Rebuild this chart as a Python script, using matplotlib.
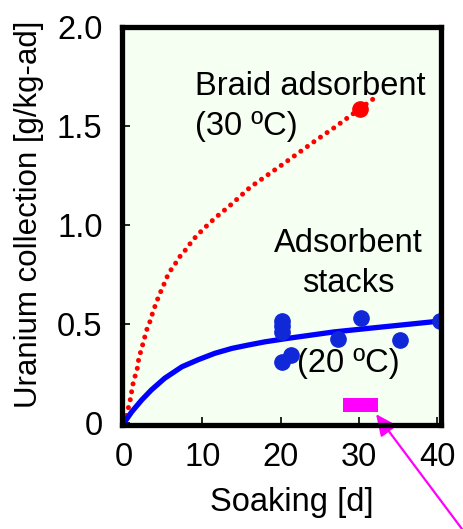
import matplotlib
matplotlib.use("Agg")
import matplotlib.pyplot as plt
from matplotlib.patches import Rectangle

plt.rcParams['font.family'] = ['Liberation Sans', 'DejaVu Sans']

# ---- data ----
braid_x = [0, 0.35, 0.64, 0.9, 1.06, 1.4, 1.7, 1.9, 2.26, 2.56, 2.9, 3.3, 3.67,
           4.1, 4.5, 5.0, 5.45, 6.0, 6.65, 7.3, 8.0, 8.7, 9.4, 10.1, 10.9, 11.6,
           12.5, 13.3, 14.1, 16.1, 18.25, 20.4, 22.5, 24.6, 26.8, 30.1, 32.3]
braid_y = [0, 0.04, 0.09, 0.133, 0.183, 0.234, 0.276, 0.327, 0.377, 0.42, 0.47,
           0.51, 0.557, 0.605, 0.646, 0.69, 0.734, 0.773, 0.81, 0.85, 0.88, 0.92,
           0.95, 0.978, 1.008, 1.034, 1.064, 1.09, 1.118, 1.19, 1.25, 1.31, 1.37,
           1.43, 1.49, 1.586, 1.65]
braid_pt_x = [30.1]
braid_pt_y = [1.586]

stack_x = [0, 1.0, 2.26, 3.5, 5.2, 7.4, 9.5, 11.6, 13.8, 15.9, 18.0, 21.0,
           26.8, 33.2, 40.4]
stack_y = [0.0, 0.057, 0.116, 0.167, 0.226, 0.284, 0.32, 0.352, 0.377, 0.394,
           0.41, 0.428, 0.46, 0.486, 0.515]
stack_pt_x = [20.2, 20.2, 20.2, 20.2, 21.3, 27.3, 30.3, 35.3, 40.4]
stack_pt_y = [0.515, 0.49, 0.46, 0.31, 0.343, 0.424, 0.532, 0.42, 0.515]

x_ticks = [0, 10, 20, 30, 40]
x_ticklabels = ['0', '10', '20', '30', '40']
y_ticks = [0, 0.5, 1.0, 1.5, 2.0]
y_ticklabels = ['0', '0.5', '1.0', '1.5', '2.0']

marker_box = (28.0, 0.056, 4.4, 0.07)  # x, y, width, height

FS = 23.5

fig = plt.figure(figsize=(4.64, 5.29), dpi=100)
ax = fig.add_axes([122/464, 104/529, 319/464, 398/529])
ax.set_facecolor('#f5fff2')

ax.plot(braid_x, braid_y, color='#ff0000', lw=3.6,
        linestyle=(0, (0.01, 1.6)), dash_capstyle='round', zorder=3)
ax.plot(braid_pt_x, braid_pt_y, 'o', color='#ff0000', ms=11, zorder=4)

ax.plot(stack_x, stack_y, color='#0000ff', lw=3.8, solid_capstyle='round',
        solid_joinstyle='round', zorder=3)
ax.plot(stack_pt_x, stack_pt_y, 'o', color='#1028d8', ms=11, zorder=4)

ax.add_patch(Rectangle(marker_box[:2], marker_box[2], marker_box[3],
                       facecolor='#ff00ff', edgecolor='none', zorder=5))

ax.annotate('', xy=(32.2, 0.045), xycoords='data',
            xytext=(462/464, 0.0), textcoords='figure fraction',
            arrowprops=dict(arrowstyle='-|>,head_length=0.65,head_width=0.3',
                            color='#ff00ff', lw=1.6, mutation_scale=20,
                            shrinkA=0, shrinkB=0),
            annotation_clip=False, zorder=6)

ax.text(9.1, 1.657, 'Braid adsorbent', fontsize=FS, va='baseline', ha='left')
ax.text(9.1, 1.455, '(30 ºC)', fontsize=FS, va='baseline', ha='left')
ax.text(28.7, 0.865, 'Adsorbent', fontsize=FS, va='baseline', ha='center')
ax.text(28.7, 0.663, 'stacks', fontsize=FS, va='baseline', ha='center')
ax.text(22.1, 0.26, '(20 ºC)', fontsize=FS, va='baseline', ha='left')

ax.set_xlim(-0.25, 40.5)
ax.set_ylim(-0.01, 2.0)
ax.set_xticks(x_ticks)
ax.set_xticklabels(x_ticklabels)
ax.set_yticks(y_ticks)
ax.set_yticklabels(y_ticklabels)
ax.tick_params(axis='both', direction='in', length=6, width=1.2, labelsize=FS)
ax.tick_params(axis='x', pad=12)
ax.tick_params(axis='y', pad=14)

for sp in ax.spines.values():
    sp.set_linewidth(3.8)
    sp.set_zorder(7)

ax.set_xlabel('Soaking [d]', fontsize=FS)
ax.set_ylabel('Uranium collection [g/kg-ad]', fontsize=FS - 1)
ax.xaxis.set_label_coords(0.533, -0.155)
ax.yaxis.set_label_coords(-0.245, 0.53)

fig.savefig('out.png', dpi=100)
